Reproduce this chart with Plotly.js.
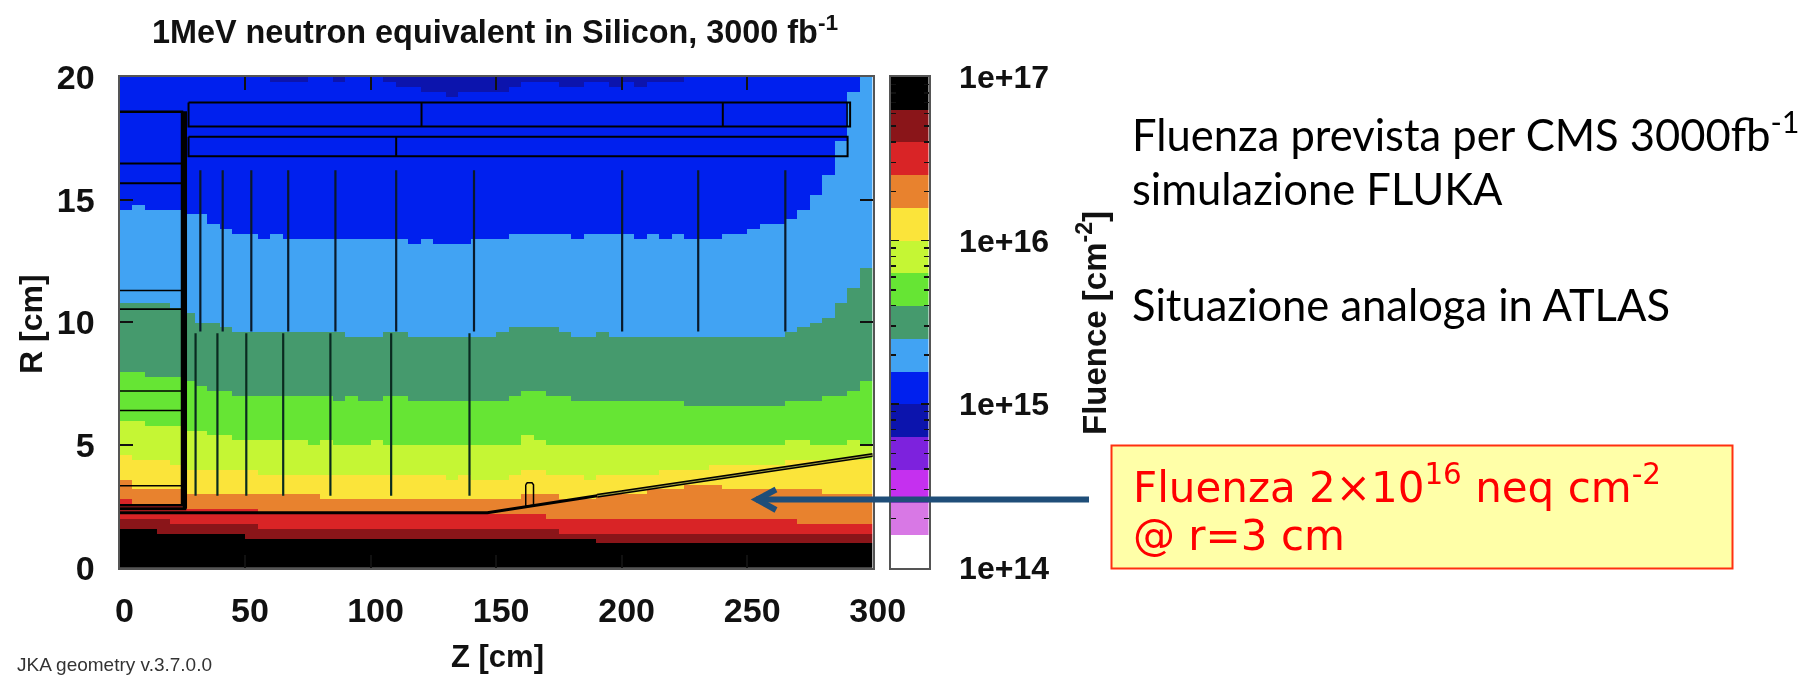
<!DOCTYPE html>
<html><head><meta charset="utf-8">
<script src="https://cdn.plot.ly/plotly-3.0.1.min.js"></script>
<style>html,body{margin:0;padding:0;background:#fff}#c{width:1807px;height:676px}
.cartesianlayer,.g-gtitle{filter:blur(0.6px)}</style>
</head><body><div id="c"></div>
<script>
// Column edges (Z, cm) and row edges (R, cm) of the scoring grid
const zEdges = [0,5,10,15,20,25,30,35,40,45,50,55,60,65,70,75,80,85,90,95,100,105,110,115,120,125,130,135,140,145,150,155,160,165,170,175,180,185,190,195,200,205,210,215,220,225,230,235,240,245,250,255,260,265,270,275,280,285,290,295,300];
const rEdges = [];
for (let i = 0; i <= 100; i++) rEdges.push(i / 5);

// Upper R limit of each fluence band, per Z column
const limBlack = [1.6,1.6,1.6,1.4,1.4,1.4,1.4,1.4,1.4,1.4, 1.2,1.2,1.2,1.2,1.2,1.2,1.2,1.2,1.2,1.2, 1.2,1.2,1.2,1.2,1.2,1.2,1.2,1.2,1.2,1.2, 1.2,1.2,1.2,1.2,1.2,1.2,1.2,1.2,1.0,1.0, 1,1,1,1,1,1,1,1,1,1, 1,1,1,1,1,1,1,1,1,1];
const limDarkRed = [2,2,2,2,1.8,1.8,1.8,1.8,1.8,1.8, 1.8,1.6,1.6,1.6,1.6,1.6,1.6,1.6,1.6,1.6, 1.6,1.6,1.6,1.6,1.6,1.6,1.6,1.6,1.6,1.6, 1.6,1.6,1.6,1.6,1.6,1.4,1.4,1.4,1.4,1.4, 1.4,1.4,1.4,1.4,1.4,1.4,1.4,1.4,1.4,1.4, 1.4,1.4,1.4,1.4,1.4,1.4,1.4,1.4,1.4,1.4];
const limRed = [2.8,2.6,2.6,2.6,2.6,2.4,2.4,2.4,2.4,2.4, 2.4,2.2,2.2,2.2,2.2,2.2,2.2,2.2,2.2,2.2, 2.2,2.2,2.2,2.2,2.2,2.2,2.2,2.2,2.2,2.2, 2.2,2.2,2.2,2.2,2,2,2,2,2,2, 2,2,2,2,2,2,2,2,2,2, 2,2,2,2,1.8,1.8,1.8,1.8,1.8,1.8];
const limOrange = [3.6,3.2,3.2,3.2,3.2,3,3,3,3,3, 3,3,3,3,3,3,2.8,2.8,2.8,2.8, 2.8,2.8,2.8,2.8,2.8,2.8,2.8,2.8,2.8,2.8, 2.8,2.8,3,3,3,2.8,2.8,2.8,3,3, 3,3,3.2,3.2,3.2,3.4,3.4,3.4,3.2,3.2, 3.2,3.2,3.2,3.2,3.2,3.2,3,3,3,3];
const limYellow = [4.6,4.4,4.4,4.4,4.2,4,4,4,4,4, 4,3.8,3.8,3.8,3.8,3.8,3.8,3.8,3.8,3.8, 3.8,3.8,3.8,3.8,3.8,3.8,3.6,3.8,3.6,3.6, 3.6,3.8,4,4,3.8,3.8,3.8,3.6,3.8,3.8, 3.8,3.8,3.8,4,4,4,4,4.2,4.2,4.2, 4.2,4.2,4.2,4.4,4.4,4.4,4.4,4.4,4.4,4.4];
const limYellowGreen = [6,6,5.8,5.8,5.8,5.6,5.6,5.4,5.4,5.2, 5.2,5.2,5.2,5.2,5.2,5,5.2,5,5,5, 5.2,5,5,5,5,5,5,5,5,5, 5,5,5.4,5.2,5,5,5,5,5,5, 5,5,5,5,5,5,5,5,5,5, 5,5,5,5.2,5.2,5,5,5,5.2,5];
const limGreen = [8,8,7.8,7.8,7.8,7.6,7.4,7.2,7.2,7, 7,7,7,7,7,7,7,6.8,7,6.8, 6.8,7,7,6.8,6.8,6.8,6.8,6.8,6.8,6.8, 6.8,7,7.2,7.2,7,7,6.8,6.8,6.8,6.8, 6.8,6.8,6.8,6.8,6.8,6.6,6.6,6.6,6.6,6.6, 6.6,6.6,6.6,6.8,6.8,6.8,7,7,7.2,7.6];
const limSeaGreen = [10.8,10.8,10.8,10.8,10.6,10.4,10,10,9.8,9.6, 9.6,9.6,9.6,9.6,9.6,9.6,9.6,9.6,9.4,9.4, 9.4,9.6,9.6,9.4,9.4,9.4,9.4,9.4,9.4,9.4, 9.6,9.8,9.8,9.8,9.8,9.6,9.4,9.4,9.6,9.4, 9.4,9.4,9.4,9.4,9.4,9.4,9.4,9.4,9.4,9.4, 9.4,9.4,9.4,9.6,9.8,10,10.2,10.8,11.4,12.2];
const limLightBlue = [14.6,14.8,14.6,14.6,14.6,14.4,14.4,14,13.8,13.6, 13.6,13.4,13.6,13.4,13.4,13.4,13.4,13.4,13.4,13.4, 13.4,13.4,13.4,13.2,13.4,13.2,13.2,13.2,13.4,13.4, 13.4,13.6,13.6,13.6,13.6,13.6,13.4,13.6,13.6,13.6, 13.6,13.4,13.6,13.4,13.6,13.4,13.4,13.4,13.6,13.6, 13.8,14,14,14.2,14.6,15.2,16,17.4,19.4,20];
const limBlue = [20,20,20,20,20,20,20,20,20,20, 20,20,19.8,19.8,19.8,20,20,19.8,20,20, 20,19.8,19.6,19.6,19.4,19.4,19.2,19.4,19.4,19.4, 19.4,19.6,19.8,19.8,19.8,19.6,19.6,19.8,19.8,19.6, 19.8,19.6,19.8,19.8,19.8,20,20,20,20,20, 20,20,20,20,20,20,20,20,20,20];

// log10 fluence of each band, from the top of the colour scale to the bottom
const bandLog = [16.9,16.7,16.5,16.3,16.1,15.9,15.7,15.5,15.3,15.1,14.9,14.7,14.5,14.3,14.1];
const bandColors = ['#000000','#8a1519','#d92426','#e8822e','#fbe43a','#c5f634','#66e534','#459a6d','#41a3f3','#0020ee','#0c14ad','#7d22dd','#c530ef','#d878e5','#ffffff'];
const scaleEdges = [14,14.2,14.4,14.6,14.8,15,15.2,15.4,15.6,15.8,16,16.2,16.4,16.6,16.8,17];
const scaleTickVals = [14,15,16,17];
const scaleTickText = ['1e+14','1e+15','1e+16','1e+17'];
const scaleMinor = [2,3,4,5,6,7,8,9,20,30,40,50,60,70,80,90,200,300,400,500,600,700,800,900].map(v => 14 + Math.log10(v));

// Detector outlines: [Z...], [R...]
const geometry = [
 {z:[0,146.5,190.3],r:[2.24,2.24,2.93],w:3},
 {z:[190.3,300],r:[2.93,4.59],w:4},
 {z:[0,26.6],r:[2.4,2.4],w:3},
 {z:[0,24.9,24.9,0],r:[18.58,18.58,2.55,2.55],w:2.5},
 {z:[26,26],r:[18.6,2.4],w:4.5},
 {z:[0,24.9],r:[16.47,16.47],w:2},
 {z:[0,24.9],r:[15.67,15.67],w:2},
 {z:[0,24.9],r:[11.3,11.3],w:1.6},
 {z:[0,24.9],r:[10.54,10.54],w:1.6},
 {z:[0,24.9],r:[7.2,7.2],w:1.6},
 {z:[0,24.9],r:[6.41,6.41],w:1.6},
 {z:[0,24.9],r:[3.34,3.34],w:1.6},
 {z:[27.5,291,291,27.5,27.5],r:[18.96,18.96,17.98,17.98,18.96],w:2},
 {z:[289.8,289.8],r:[18.96,17.98],w:1.5},
 {z:[120.3,120.3],r:[18.96,17.98],w:2},
 {z:[240.3,240.3],r:[18.96,17.98],w:2},
 {z:[27.5,290,290,27.5,27.5],r:[17.56,17.56,16.77,16.77,17.56],w:2},
 {z:[110.2,110.2],r:[17.56,16.77],w:2},
 {z:[161.8,162.4,164.3,164.9,164.9,161.8,161.8],r:[3.38,3.46,3.46,3.38,2.55,2.5,3.38],w:1.5}
];
const upperStripZ = [32.2,41.1,52.5,67.2,86,110.2,141.2,200.2,230.5,265.2];
const upperStripR = [16.2,9.63];
const lowerStripZ = [30.3,39,50.5,65.2,84,108.2,139.4];
const lowerStripR = [9.56,2.93];

// Layout helpers: page pixels to paper fractions
const W = 1807, H = 676;
const X = p => p / W, Y = p => 1 - p / H;

// Assign each grid cell to its band
const limits = [limBlack,limDarkRed,limRed,limOrange,limYellow,limYellowGreen,limGreen,limSeaGreen,limLightBlue,limBlue];
const grid = [];
for (let j = 0; j < rEdges.length - 1; j++) {
  const rc = (rEdges[j] + rEdges[j+1]) / 2, row = [];
  for (let c = 0; c < zEdges.length - 1; c++) {
    let b = 0;
    while (b < limits.length && rc >= limits[b][c]) b++;
    row.push(bandLog[b]);
  }
  grid.push(row);
}
const n = bandColors.length, colorscale = [];
bandColors.slice().reverse().forEach((col, i) => { colorscale.push([i/n, col]); colorscale.push([(i+1)/n, col]); });

const traces = [{type:'heatmap', x:zEdges, y:rEdges, z:grid, zmin:14, zmax:17, colorscale, showscale:false, hoverinfo:'skip'}];
geometry.forEach(g => traces.push({type:'scatter', mode:'lines', x:g.z, y:g.r, line:{color:'#000', width:g.w}, hoverinfo:'skip', showlegend:false}));
traces.push({type:'scatter', mode:'lines', x:[190.3,300], y:[2.93,4.59], line:{color:'#9a9a3a', width:1}, hoverinfo:'skip', showlegend:false});
upperStripZ.forEach(z => traces.push({type:'scatter', mode:'lines', x:[z,z], y:upperStripR, line:{color:'#0a1a2a', width:2.2}, hoverinfo:'skip', showlegend:false}));
lowerStripZ.forEach(z => traces.push({type:'scatter', mode:'lines', x:[z,z], y:lowerStripR, line:{color:'#0a2a20', width:2.2}, hoverinfo:'skip', showlegend:false}));
traces.push({type:'heatmap', xaxis:'x2', yaxis:'y2', x:[0,1], y:scaleEdges, z:bandLog.slice().reverse().map(v => [v]), zmin:14, zmax:17, colorscale, showscale:false, hoverinfo:'skip'});

const boldFont = s => ({family:'"Liberation Sans", Arial, sans-serif', size:s, color:'#111', weight:700});
const note = (text, xp, yp, font, extra) => Object.assign({text, x:X(xp), y:Y(yp), xref:'paper', yref:'paper', showarrow:false, xanchor:'left', yanchor:'middle', font, align:'left'}, extra||{});
const slideFont = {family:'Lato, "Noto Sans", sans-serif', size:43.5, color:'#000'};
const redFont = {family:'"DejaVu Sans", sans-serif', size:42, color:'#ff0000'};

const layout = {
  width:W, height:H, margin:{l:0,r:0,t:0,b:0}, paper_bgcolor:'#fff', plot_bgcolor:'#fff', showlegend:false,
  title:{text:'<b>1MeV neutron equivalent in Silicon, 3000 fb<sup>-1</sup></b>', x:X(495), xanchor:'center', y:Y(32), yanchor:'middle', font:boldFont(32.4)},
  xaxis:{domain:[X(119.5),X(872.7)], range:[0,300], anchor:'y', tickvals:[0,50,100,150,200,250,300], ticks:'inside', ticklen:13, tickwidth:2, tickcolor:'#111', showline:true, linecolor:'#555', linewidth:2, mirror:'ticks', showgrid:false, zeroline:false, tickfont:boldFont(34), ticklabelstandoff:11, ticklabelshift:5},
  yaxis:{domain:[Y(567.7),Y(77)], range:[0,20], anchor:'x', tickvals:[0,5,10,15,20], ticks:'inside', ticklen:13, tickwidth:2, tickcolor:'#111', showline:true, linecolor:'#555', linewidth:2, mirror:'ticks', showgrid:false, zeroline:false, tickfont:boldFont(34), ticklabelstandoff:16},
  xaxis2:{domain:[X(890.7),X(928.7)], range:[0,1], anchor:'y2', showticklabels:false, ticks:'', showline:true, linecolor:'#555', linewidth:2, mirror:true, showgrid:false, zeroline:false},
  yaxis2:{domain:[Y(567.7),Y(77)], range:[14,17], anchor:'x2', side:'right', tickvals:scaleTickVals, ticktext:scaleTickText, ticks:'inside', ticklen:8, tickwidth:1.5, tickcolor:'#111', showline:true, linecolor:'#555', linewidth:2, mirror:'ticks', showgrid:false, zeroline:false, tickfont:boldFont(32), ticklabelstandoff:22,
    minor:{ticks:'inside', tickmode:'array', tickvals:scaleMinor, ticklen:5, tickwidth:1.5, tickcolor:'#111', showgrid:false}},
  shapes:[
    {type:'rect', xref:'paper', yref:'paper', x0:X(1111.5), x1:X(1732.5), y0:Y(568.5), y1:Y(445.5), fillcolor:'#ffffa8', line:{color:'#ff3010', width:2}, layer:'above'},
    {type:'path', xref:'paper', yref:'paper', path:`M ${X(1089)} ${Y(499.5)} L ${X(756)} ${Y(499.5)}`, line:{color:'#1f4e79', width:6}, layer:'above'},
    {type:'path', xref:'paper', yref:'paper', path:`M ${X(776)} ${Y(489.5)} L ${X(757)} ${Y(499.5)} L ${X(776)} ${Y(510)}`, line:{color:'#1f4e79', width:6}, layer:'above'}
  ],
  annotations:[
    note('<b>R [cm]</b>', 31, 324, boldFont(32), {xanchor:'center', textangle:-90}),
    note('<b>Z [cm]</b>', 497, 656, boldFont(31), {xanchor:'center'}),
    note('<b>Fluence [cm<sup>-2</sup>]</b>', 1092, 323, boldFont(33), {xanchor:'center', textangle:-90}),
    note('JKA geometry v.3.7.0.0', 15, 664, {family:'"Liberation Sans", Arial, sans-serif', size:19, color:'#333'}),
    note('Fluenza prevista per CMS 3000fb<sup>-1</sup>', 1130, 131, slideFont),
    note('simulazione FLUKA', 1130, 188, slideFont),
    note('Situazione analoga in ATLAS', 1130, 304, slideFont),
    note('Fluenza 2×10<sup>16</sup> neq cm<sup>-2</sup>', 1131, 484, redFont),
    note('@ r=3 cm', 1131, 535, redFont)
  ]
};
Plotly.newPlot('c', traces, layout, {displayModeBar:false, staticPlot:true});
</script></body></html>
